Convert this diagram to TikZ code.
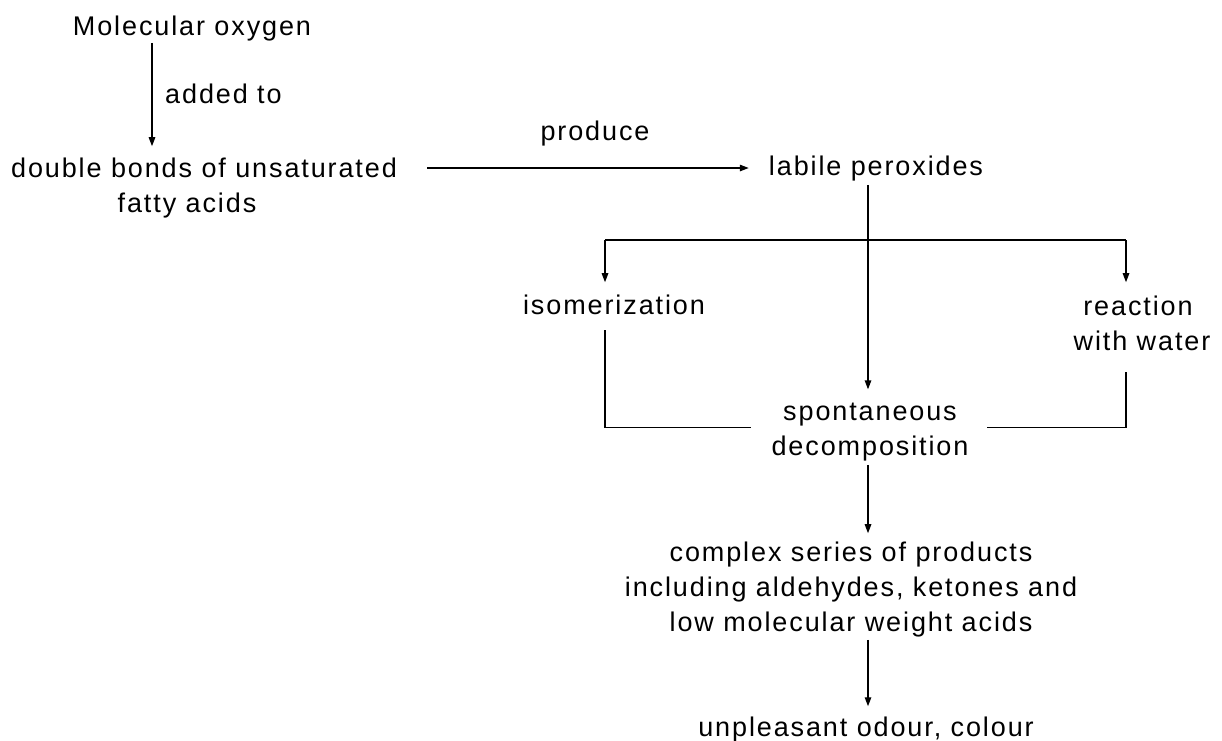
\documentclass[tikz,border=0pt]{standalone}
\usepackage{fontspec}
\setmainfont{Liberation Sans}[LetterSpace=7]
\usetikzlibrary{arrows.meta}
\begin{document}
\begin{tikzpicture}[x=1pt,y=-1pt,
  txt/.style={inner sep=0pt,align=center,anchor=base,font=\fontsize{27}{35}\selectfont},
  ln/.style={line width=1.3pt},
  arr/.style={ln,-{Triangle[length=9pt,width=6.5pt]}}]
\useasboundingbox (0,0) rectangle (1222,740);
% nodes (base anchor = baseline of the last line)
\node[txt] (mol) at (192,35) {Molecular oxygen};
\node[txt,anchor=base west] (add) at (165,103) {added to};
\node[txt] (dbl) at (204,212) {double bonds of unsaturated\\fatty acids\hspace*{34pt}};
\node[txt] (pro) at (595,140) {produce};
\node[txt] (lab) at (876,175) {labile peroxides};
\node[txt] (iso) at (614,314) {isomerization};
\node[txt] (rw) at (1138,350) {reaction\\\hspace*{8pt}with water};
\node[txt] (sp) at (870,455) {spontaneous\\decomposition};
\node[txt] (cx) at (851,631) {complex series of products\\including aldehydes, ketones and\\low molecular weight acids};
\node[txt] (un) at (866,736) {unpleasant odour, colour};
% helper coordinates
\coordinate (cA) at (152,0);
\coordinate (cV) at (868,0);
\coordinate (cL) at (605,240);
\coordinate (cR) at (1126,240);
\coordinate (cH) at (0,168);
% connectors
\draw[arr] ([yshift=-2pt]mol.south -| cA) -- ([yshift=11pt]dbl.north -| cA);
\draw[arr] ([xshift=30pt]dbl.east |- cH) -- ([xshift=-20pt]lab.west |- cH);
\draw[arr] ([yshift=-4pt]lab.south -| cV) -- ([yshift=13pt]sp.north -| cV);
\draw[ln] (cL) -- (cR);
\draw[arr] (cL) -- ([yshift=12pt]iso.north -| cL);
\draw[arr] (cR) -- ([yshift=13pt]rw.north -| cR);
\draw[ln] ([yshift=-16pt]iso.south -| cL) |- ([xshift=-20pt,yshift=4pt]sp.west);
\draw[ln] ([yshift=-22pt]rw.south -| cR) |- ([xshift=18pt,yshift=4pt]sp.east);
\draw[arr] ([yshift=-4pt]sp.south -| cV) -- ([yshift=8pt]cx.north -| cV);
\draw[arr] ([yshift=-3pt]cx.south -| cV) -- ([yshift=10pt]un.north -| cV);
\end{tikzpicture}
\end{document}
